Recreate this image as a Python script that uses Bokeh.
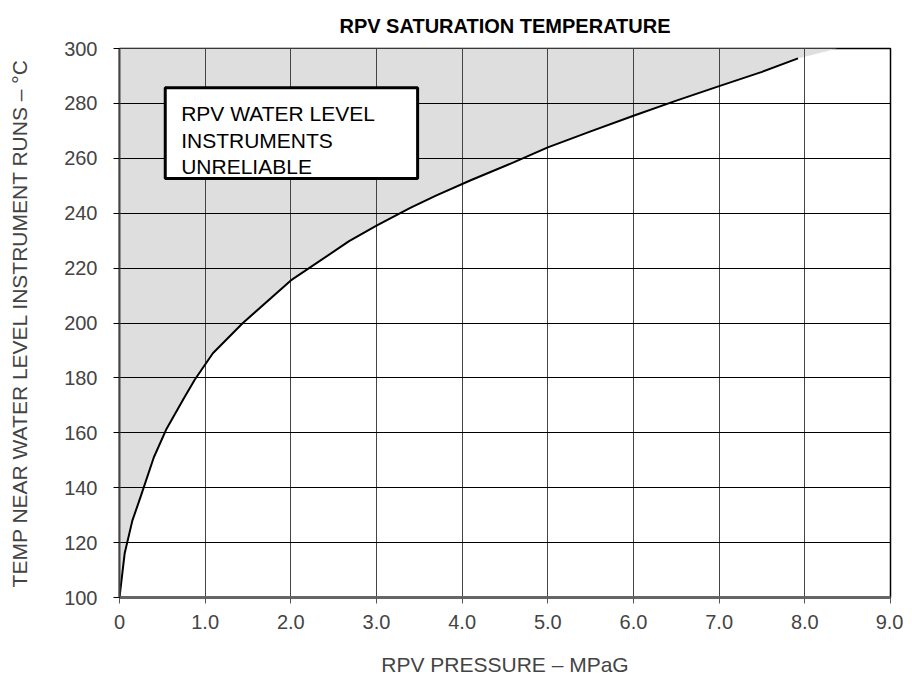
from bokeh.plotting import figure
from bokeh.models import Range1d, FixedTicker
from bokeh.core.properties import value
from bokeh.embed import file_html
from bokeh.resources import INLINE

# ---- data ----
pressure = [0.0, 0.06, 0.15, 0.25, 0.4, 0.55, 0.75, 0.88, 1.09, 1.44, 2.0, 2.68,
            3.0, 3.4, 3.7, 4.1, 4.6, 5.0, 5.5, 6.0, 6.5, 7.0, 7.5, 7.92]
temperature = [100, 116, 128, 137, 151, 161.5, 172.5, 179.4, 189, 200, 215.5, 229.8,
               235.5, 242, 246.5, 252, 258.5, 264, 269.8, 275.5, 281, 286.3, 291.5, 296.4]
shade_end_pressure = 8.38
shade_end_temperature = 300

x_ticks = [0, 1, 2, 3, 4, 5, 6, 7, 8, 9]
x_tick_labels = ["0", "1.0", "2.0", "3.0", "4.0", "5.0", "6.0", "7.0", "8.0", "9.0"]
y_ticks = [100, 120, 140, 160, 180, 200, 220, 240, 260, 280, 300]

box_lines = ["RPV WATER LEVEL", "INSTRUMENTS", "UNRELIABLE"]

FONT = "Liberation Sans"

p = figure(frame_width=771, frame_height=549,
           x_range=Range1d(0, 9), y_range=Range1d(100, 300),
           output_backend="svg", toolbar_location=None,
           min_border_left=119, min_border_right=13, min_border_top=48, min_border_bottom=76,
           background_fill_color="white", border_fill_color="white")

# title
p.title.text = "RPV SATURATION TEMPERATURE"
p.title.align = "center"
p.title.text_font = FONT
p.title.text_font_size = "20px"
p.title.text_font_style = "bold"
p.title.text_color = "black"
p.title.standoff = 24

# shaded region (above the curve)
shade_x = list(pressure) + [shade_end_pressure, 0]
shade_y = list(temperature) + [shade_end_temperature, 300]
p.patch(shade_x, shade_y, fill_color="#dedede", line_color=None, level="image")

# curve
p.line(pressure, temperature, line_color="black", line_width=2)

# text box
p.quad(left=[0.534], right=[3.48], top=[285.7], bottom=[252.6],
       fill_color="white", line_color="black", line_width=3)
p.text(x=[0.72, 0.72, 0.72], y=[276.3, 266.4, 256.9], text=box_lines,
       text_font=value(FONT), text_font_size="21px", text_color="black",
       text_baseline="alphabetic", text_align="left")

# grids
p.xgrid.ticker = FixedTicker(ticks=x_ticks)
p.ygrid.ticker = FixedTicker(ticks=y_ticks)
p.xgrid.grid_line_color = "#444444"
p.xgrid.grid_line_width = 1
p.ygrid.grid_line_color = "black"
p.ygrid.grid_line_width = 1.2

p.outline_line_color = "black"
p.outline_line_width = 1.5

# axes
xa = p.xaxis[0]
xa.ticker = FixedTicker(ticks=x_ticks)
xa.major_label_overrides = {t: l for t, l in zip(x_ticks, x_tick_labels)}
xa.axis_label = "RPV PRESSURE \u2013 MPaG"
xa.axis_label_text_font = FONT
xa.axis_label_text_font_size = "21px"
xa.axis_label_text_font_style = "normal"
xa.axis_label_standoff = 21
xa.major_label_text_font = FONT
xa.major_label_text_font_size = "20px"
xa.major_label_standoff = 11
xa.axis_line_color = "#666666"
xa.axis_line_width = 3
xa.major_tick_line_color = "#555555"
xa.major_tick_out = 6
xa.major_tick_in = 0
xa.minor_tick_line_color = None

ya = p.yaxis[0]
ya.ticker = FixedTicker(ticks=y_ticks)
ya.axis_label = "TEMP NEAR WATER LEVEL INSTRUMENT RUNS \u2013 \u00b0C"
ya.axis_label_text_font = FONT
ya.axis_label_text_font_size = "21px"
ya.axis_label_text_font_style = "normal"
ya.axis_label_standoff = 30
ya.major_label_text_font = FONT
ya.major_label_text_font_size = "20px"
ya.major_label_standoff = 16
ya.major_label_orientation = "horizontal"
ya.axis_line_color = "#444444"
ya.axis_line_width = 2
ya.major_tick_line_color = "black"
ya.major_tick_out = 6
ya.major_tick_in = 0
ya.minor_tick_line_color = None

open("out.html", "w").write(file_html(p, INLINE))
